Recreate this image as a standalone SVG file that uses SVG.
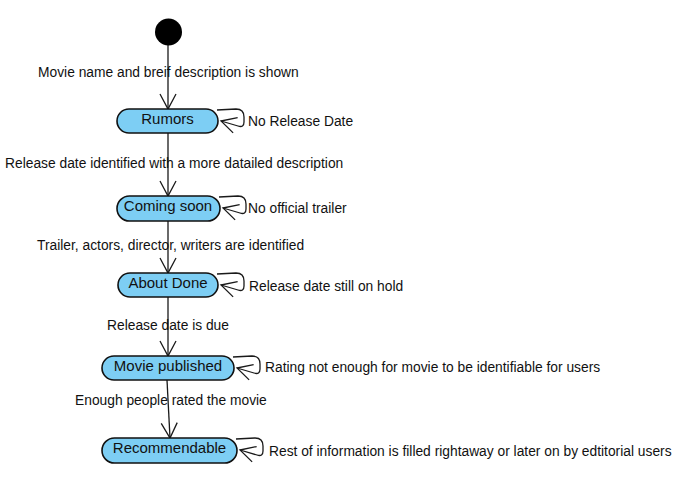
<svg xmlns="http://www.w3.org/2000/svg" width="682" height="503" viewBox="0 0 682 503">
<defs>
<marker id="arr" markerUnits="userSpaceOnUse" markerWidth="30" markerHeight="30" refX="0" refY="0" viewBox="-20 -15 30 30" orient="auto" overflow="visible">
<path d="M -15,-8 L 0,0 L -15,8" fill="none" stroke="#1a1a1a" stroke-width="1.3"/>
</marker>
</defs>
<style>
text{font-family:"Liberation Sans",Arial,sans-serif;fill:#111}
.lbl{font-size:13.8px}
.nt{font-size:15px;text-anchor:middle}
.st{fill:#7DCEF4;stroke:#111;stroke-width:1.6}
.e{fill:none;stroke:#1a1a1a;stroke-width:1.3;marker-end:url(#arr)}
</style>
<rect width="682" height="503" fill="#fff"/>
<g id="connectors">
<path class="e" d="M168,45 L168,109"/>
<text class="lbl" x="38" y="77">Movie name and breif description is shown</text>
<path class="e" d="M168,133 L168,196"/>
<text class="lbl" x="5" y="168">Release date identified with a more datailed description</text>
<path class="e" d="M168,221 L168,273"/>
<text class="lbl" x="37" y="250">Trailer, actors, director, writers are identified</text>
<path class="e" d="M168,297 L168,356"/>
<text class="lbl" x="107" y="330">Release date is due</text>
<path class="e" d="M167,380 L170,438"/>
<text class="lbl" x="75" y="405">Enough people rated the movie</text>
<path class="e" d="M217,110 L236,109 Q244,109 244,117 L244,122 Q244,128 238,126 L221,121"/>
<text class="lbl" x="248" y="126">No Release Date</text>
<path class="e" d="M219,197 L238,196 Q246,196 246,204 L246,209 Q246,215 240,213 L223,208"/>
<text class="lbl" x="248" y="213">No official trailer</text>
<path class="e" d="M217,274 L236,273 Q244,273 244,281 L244,286 Q244,292 238,290 L221,285"/>
<text class="lbl" x="249" y="291">Release date still on hold</text>
<path class="e" d="M233,357 L252,356 Q260,356 260,364 L260,369 Q260,375 254,373 L237,368"/>
<text class="lbl" x="265" y="372">Rating not enough for movie to be identifiable for users</text>
<path class="e" d="M236,439 L255,438 Q263,438 263,446 L263,451 Q263,457 257,455 L240,450"/>
<text class="lbl" x="269" y="456">Rest of information is filled rightaway or later on by edtitorial users</text>
</g>
<g id="start">
<circle cx="168.5" cy="32" r="13.5" fill="#000"/>
</g>
<g id="rumors">
<rect class="st" x="117" y="109" width="101" height="24" rx="12"/>
<text class="nt" x="167.5" y="124">Rumors</text>
</g>
<g id="coming-soon">
<rect class="st" x="117" y="196" width="103" height="25" rx="12.5"/>
<text class="nt" x="168" y="211">Coming soon</text>
</g>
<g id="about-done">
<rect class="st" x="118" y="273" width="100" height="24" rx="12"/>
<text class="nt" x="168" y="288">About Done</text>
</g>
<g id="movie-published">
<rect class="st" x="102" y="356" width="132" height="24" rx="12"/>
<text class="nt" x="168" y="371">Movie published</text>
</g>
<g id="recommendable">
<rect class="st" x="102" y="438" width="135" height="25" rx="12.5"/>
<text class="nt" x="169.5" y="453">Recommendable</text>
</g>
</svg>
